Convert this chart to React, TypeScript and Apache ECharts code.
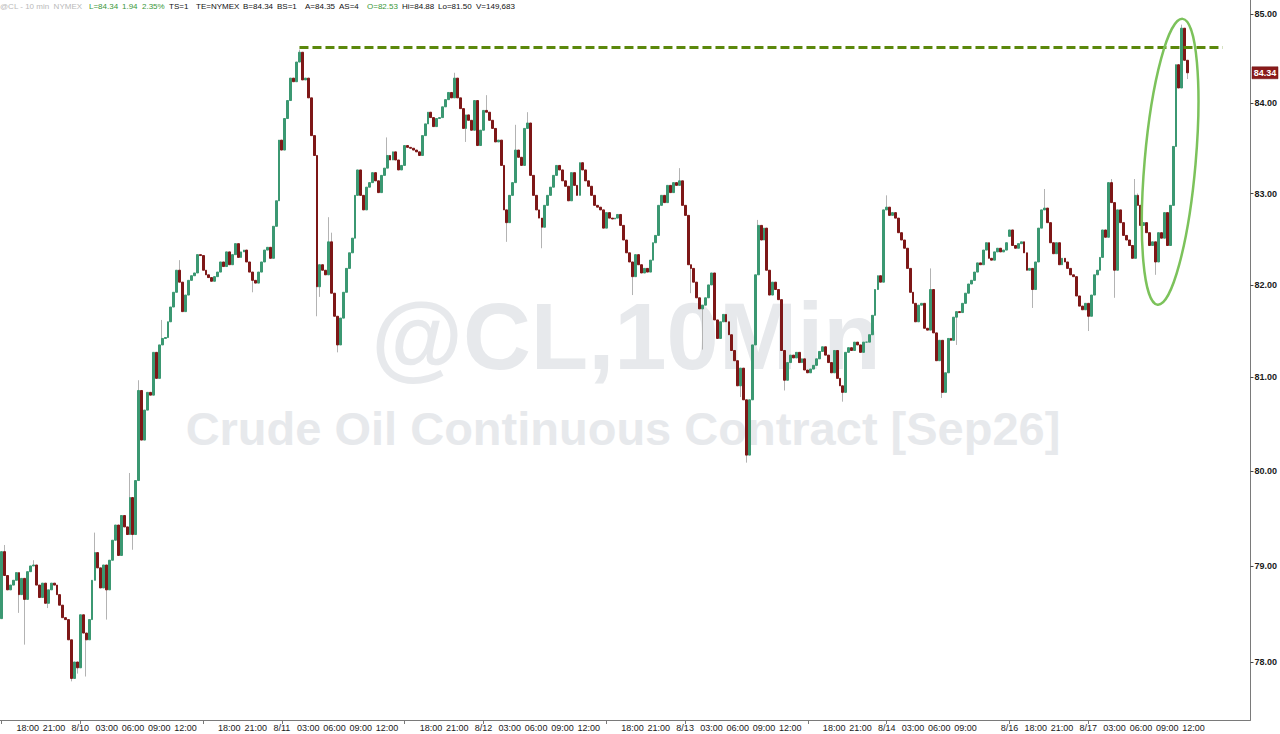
import React, { useEffect, useRef } from "react";
import * as echarts from "echarts";

// ---------- DATA (20-minute bars) ----------
const firstOpen = 78.45;

const closesS0 = [
  79.15, 78.9, 78.75, 78.8, 78.85, 78.93, 78.7, 78.87, 78.65, 78.94,
  79.0, 79.01, 78.8, 78.67, 78.82, 78.61, 78.75, 78.82, 78.8, 78.7,
  78.59, 78.46, 78.44, 78.23, 77.83, 78.0, 77.94, 78.49, 78.3, 78.23,
  78.44, 78.85, 79.14, 78.98, 78.77, 79.01, 78.75, 79.06, 79.27, 79.43,
  79.11, 79.53, 79.41, 79.33, 79.72, 79.33, 79.9, 80.86, 80.33, 80.65,
  80.84, 80.81, 81.27, 80.99, 81.35, 81.42, 81.43, 81.6, 81.76, 81.92,
  82.16, 82.03, 81.71, 81.89, 82.05, 82.1, 82.13, 82.33, 82.32,
];
const closesS1 = [
  82.16, 82.11, 82.08, 82.04, 82.09, 82.14, 82.25, 82.2, 82.36, 82.22,
  82.33, 82.45, 82.3, 82.36, 82.38, 82.25, 82.14, 82.05, 82.02, 82.14,
  82.25, 82.38, 82.41, 82.29, 82.64, 82.92, 83.59, 83.48, 83.83, 84.03,
  84.28, 84.24, 84.46, 84.57, 84.26, 84.28, 84.06, 83.64, 83.42, 81.98,
  82.22, 82.16, 82.11, 82.47, 81.91, 81.66, 81.35, 81.64, 81.92, 82.18,
  82.35, 82.51, 82.98, 83.26, 82.98, 82.82, 83.07, 83.12, 83.23, 83.14,
  83.01, 83.2, 83.28, 83.42, 83.37, 83.46, 83.37, 83.26, 83.31,
];
const closesS2 = [
  83.53, 83.51, 83.5, 83.48, 83.46, 83.42, 83.64, 83.77, 83.9, 83.84,
  83.74, 83.83, 83.84, 83.96, 84.04, 84.12, 84.06, 84.28, 84.06, 83.94,
  83.72, 83.87, 83.81, 83.7, 84.03, 83.53, 83.7, 83.92, 83.9, 83.81,
  83.72, 83.57, 83.59, 83.31, 82.82, 82.68, 82.98, 83.12, 83.48, 83.4,
  83.31, 83.72, 83.78, 83.2, 82.98, 82.82, 82.73, 82.63, 82.87, 82.98,
  83.07, 83.2, 83.31, 83.26, 83.14, 83.08, 82.92, 83.23, 83.09, 82.98,
  83.34, 83.26, 83.14, 83.08, 82.98, 82.87, 82.85, 82.82, 82.62,
];
const closesS3 = [
  82.79, 82.73, 82.72, 82.73, 82.77, 82.65, 82.49, 82.35, 82.25, 82.09,
  82.33, 82.22, 82.13, 82.18, 82.14, 82.27, 82.46, 82.54, 82.87, 82.98,
  82.9, 83.09, 83.01, 83.12, 83.09, 83.14, 82.87, 82.76, 82.22, 82.18,
  82.03, 81.86, 81.74, 81.78, 81.86, 82.0, 82.13, 81.62, 81.42, 81.6,
  81.68, 81.6, 81.46, 81.29, 81.18, 80.91, 81.1, 80.76, 80.17, 80.76,
  81.35, 82.11, 82.65, 82.49, 82.62, 82.16, 81.89, 82.03, 81.95, 81.84,
  81.29, 80.97, 81.16, 81.24, 81.21, 81.27, 81.16, 81.2, 81.08,
];
const closesS4 = [
  81.05, 81.09, 81.13, 81.2, 81.28, 81.33, 81.24, 81.16, 81.05, 81.29,
  80.99, 80.91, 80.84, 81.27, 81.32, 81.29, 81.38, 81.35, 81.27, 81.38,
  81.38, 81.46, 81.67, 81.95, 82.1, 82.03, 82.82, 82.85, 82.76, 82.79,
  82.73, 82.57, 82.49, 82.4, 82.18, 81.92, 81.8, 81.6, 81.78, 81.8,
  81.53, 81.51, 81.95, 81.48, 81.18, 81.4, 80.84, 81.05, 81.42, 81.4,
  81.65, 81.71, 81.7, 81.8, 81.91, 82.01, 82.05, 82.14, 82.24, 82.22,
  82.38, 82.46, 82.29, 82.27, 82.36, 82.4, 82.36, 82.38, 82.46,
];
const closesS5 = [
  82.6, 82.43, 82.4, 82.45, 82.47, 82.35, 82.16, 82.18, 81.95, 82.25,
  82.62, 82.82, 82.84, 82.68, 82.46, 82.34, 82.46, 82.22, 82.29, 82.25,
  82.18, 82.11, 82.09, 81.88, 81.77, 81.73, 81.8, 81.66, 81.89, 82.11,
  82.16, 82.3, 82.6, 82.52, 83.12, 82.9, 82.16, 82.82, 82.68, 82.54,
  82.49, 82.43, 82.29, 82.98, 82.87, 82.65, 82.68, 82.57, 82.43, 82.47,
  82.25, 82.57, 82.51, 82.79, 82.43, 82.87, 83.52, 84.43, 84.17, 84.84,
  84.48, 84.34,
];

// gap opens (bar index, open)
const gapOpens: [number, number][] = [[345, 82.53]];

// wick extremes beyond the bodies (bar index, price)
const highWicks: [number, number][] = [
  [1, 79.22], [11, 79.06], [32, 79.35], [44, 79.98], [47, 80.97], [55, 81.62],
  [61, 82.27], [102, 84.6], [112, 82.74], [113, 82.57], [132, 83.62], [155, 84.34],
  [166, 84.09], [176, 83.76], [180, 83.9], [232, 83.28], [259, 82.71], [303, 82.98],
  [318, 82.18], [357, 83.05], [380, 83.16], [388, 83.16], [389, 83.0], [404, 84.88],
];
const lowWicks: [number, number][] = [
  [6, 78.51], [8, 78.18], [16, 78.56], [24, 77.8], [26, 77.88], [29, 77.85],
  [36, 78.44], [45, 79.17], [86, 81.92], [108, 81.66], [109, 81.87], [115, 81.27],
  [159, 83.57], [173, 82.47], [185, 82.4], [216, 81.89], [236, 81.91], [240, 81.3],
  [253, 80.79], [255, 80.09], [268, 80.86], [288, 80.74], [322, 80.78], [327, 81.35],
  [353, 81.75], [372, 81.5], [381, 81.86], [395, 82.11], [406, 84.27],
];

const yTicks = [78, 79, 80, 81, 82, 83, 84, 85];
const resistanceLevel = 84.63;
const resistanceFromBar = 102;
const resistanceToBar = 418;
const lastPrice = 84.34;
const ellipseCenterBar = 400;
const ellipseCenterPrice = 83.35;

const sessionStartDays = ["8/9", "8/10", "8/11", "8/12", "8/13", "8/16"];
const barsPerSession = 69;
const sessionStartMinutes = 15 * 60;
const barMinutes = 20;
const totalSlots = 428;
const timeLabelHours = [3, 6, 9, 12, 18, 21];

const headerParts: { text: string; x: number; color: string }[] = [
  { text: "@CL - 10 min  NYMEX", x: 0, color: "#b9b9b9" },
  { text: "L=84.34", x: 89, color: "#3a983a" },
  { text: "1.94", x: 122, color: "#3a983a" },
  { text: "2.35%", x: 142, color: "#3a983a" },
  { text: "TS=1", x: 169, color: "#111" },
  { text: "TE=NYMEX", x: 196, color: "#111" },
  { text: "B=84.34", x: 243, color: "#111" },
  { text: "BS=1", x: 277, color: "#111" },
  { text: "A=84.35", x: 305, color: "#111" },
  { text: "AS=4", x: 339, color: "#111" },
  { text: "O=82.53", x: 367, color: "#3a983a" },
  { text: "Hi=84.88", x: 402, color: "#111" },
  { text: "Lo=81.50", x: 438, color: "#111" },
  { text: "V=149,683", x: 476, color: "#111" },
];

// ---------- derived ----------
const closes = [...closesS0, ...closesS1, ...closesS2, ...closesS3, ...closesS4, ...closesS5];
const highMap = new Map(highWicks);
const lowMap = new Map(lowWicks);
const gapMap = new Map(gapOpens);

const bars = closes.map((c, i) => {
  const o = gapMap.has(i) ? (gapMap.get(i) as number) : i === 0 ? firstOpen : closes[i - 1];
  const hi = Math.max(o, c, highMap.has(i) ? (highMap.get(i) as number) : -Infinity);
  const lo = Math.min(o, c, lowMap.has(i) ? (lowMap.get(i) as number) : Infinity);
  return { o, c, hi, lo };
});
const L = Math.log;
const wickData = bars.map((b) => [L(b.o), L(b.c), L(b.lo), L(b.hi)]);
const bodyData = bars.map((b) => [L(b.o), L(b.c), L(Math.min(b.o, b.c)), L(Math.max(b.o, b.c))]);

const nextDay = (d: string) => {
  const [m, day] = d.split("/").map(Number);
  return `${m}/${day + 1}`;
};
const pad = (n: number) => (n < 10 ? "0" + n : "" + n);

type Slot = { day: string; hour: number; min: number; sessionStart: boolean; afterWeekend: boolean };
const slots: Slot[] = [];
sessionStartDays.forEach((start, s) => {
  const afterWeekend = s > 0 && nextDay(sessionStartDays[s - 1]) !== start;
  for (let j = 0; j < barsPerSession; j++) {
    const minutes = sessionStartMinutes + barMinutes * j;
    slots.push({
      day: minutes >= 1440 ? nextDay(start) : start,
      hour: Math.floor(minutes / 60) % 24,
      min: minutes % 60,
      sessionStart: j === 0,
      afterWeekend: afterWeekend && j === 0,
    });
  }
});
const labels = slots.map((t) => {
  if (t.afterWeekend) return t.day;
  if (t.min !== 0) return "";
  if (t.hour === 0) return t.day;
  if (timeLabelHours.includes(t.hour)) return `${pad(t.hour)}:00`;
  return "";
});
labels.forEach((lab, i) => {
  if (!lab || lab.includes("/")) return;
  for (let k = i + 1; k <= i + 8 && k < slots.length; k++) {
    if (slots[k].afterWeekend) labels[i] = "";
  }
});
const tickSet = new Set<number>();
slots.forEach((t, i) => {
  if (t.sessionStart || (t.hour === 0 && t.min === 0)) tickSet.add(i);
});
const categories: string[] = [];
for (let i = 0; i < totalSlots; i++) {
  const t = slots[i];
  categories.push(t ? `${t.day} ${pad(t.hour)}:${pad(t.min)}` : `next-${i}`);
  if (!t) labels.push("");
}

const lnMax = L(85) + 14 / 7540;
const lnMin = L(85) - 706 / 7540;

const UP = "#3b9872";
const DOWN = "#7e1717";
const WICK = "#b3b3b3";
const FONT = "Liberation Sans, Arial, sans-serif";

export default function App() {
  const ref = useRef<HTMLDivElement>(null);
  useEffect(() => {
    if (!ref.current) return;
    const chart = echarts.init(ref.current, null, { renderer: "svg" });
    chart.setOption({
      animation: false,
      backgroundColor: "#ffffff",
      grid: { left: 0, right: 28, top: 0, bottom: 14 },
      xAxis: {
        type: "category",
        data: categories,
        boundaryGap: true,
        axisLine: { show: true, lineStyle: { color: "#7a7a7a", width: 1 } },
        axisTick: {
          show: true,
          alignWithLabel: true,
          length: 4,
          interval: (i: number) => tickSet.has(i),
          lineStyle: { color: "#7a7a7a" },
        },
        axisLabel: {
          interval: (i: number) => labels[i] !== "",
          formatter: (_v: string, i: number) => labels[i],
          fontSize: 9,
          color: "#1a1a1a",
          fontFamily: FONT,
          margin: 3,
        },
        splitLine: { show: false },
      },
      yAxis: {
        type: "value",
        position: "right",
        min: lnMin,
        max: lnMax,
        axisLine: { show: true, lineStyle: { color: "#7a7a7a", width: 1 } },
        axisTick: {
          show: true,
          length: 3,
          customValues: yTicks.map(L),
          lineStyle: { color: "#444" },
        },
        axisLabel: {
          customValues: yTicks.map(L),
          formatter: (v: number) => Math.exp(v).toFixed(2),
          fontSize: 9,
          fontWeight: "bold",
          color: "#1a1a1a",
          fontFamily: FONT,
          margin: 4,
        },
        splitLine: { show: false },
      },
      series: [
        {
          type: "candlestick",
          data: wickData,
          barWidth: 1,
          silent: true,
          z: 2,
          itemStyle: { color: WICK, color0: WICK, borderColor: WICK, borderColor0: WICK, borderWidth: 1 },
        },
        {
          type: "candlestick",
          data: bodyData,
          barWidth: 2.4,
          silent: true,
          z: 3,
          itemStyle: { color: UP, color0: DOWN, borderColor: UP, borderColor0: DOWN, borderWidth: 1 },
          markLine: {
            silent: true,
            symbol: ["none", "none"],
            animation: false,
            label: { show: false },
            data: [
              [
                {
                  coord: [resistanceFromBar, L(resistanceLevel)],
                  lineStyle: { type: [9, 4], color: "#5b880c", width: 3 },
                },
                { coord: [resistanceToBar, L(resistanceLevel)] },
              ],
            ],
          },
        },
      ],
    });

    const c = chart.convertToPixel({ gridIndex: 0 }, [ellipseCenterBar, L(ellipseCenterPrice)]) as number[];
    const tagY = (chart.convertToPixel({ gridIndex: 0 }, [0, L(lastPrice)]) as number[])[1];
    chart.setOption({
      graphic: [
        {
          type: "text",
          silent: true,
          z: 0,
          x: 626,
          y: 336,
          style: {
            text: "@CL,10Min",
            fontSize: 94,
            fontWeight: "bold",
            fontFamily: FONT,
            fill: "#e7e9ec",
            align: "center",
            verticalAlign: "middle",
          },
        },
        {
          type: "text",
          silent: true,
          z: 0,
          x: 623,
          y: 428,
          style: {
            text: "Crude Oil Continuous Contract [Sep26]",
            fontSize: 47,
            fontWeight: "bold",
            fontFamily: FONT,
            fill: "#e7e9ec",
            align: "center",
            verticalAlign: "middle",
          },
        },
        {
          type: "ellipse",
          silent: true,
          z: 100,
          x: c[0],
          y: c[1],
          rotation: -0.087,
          shape: { cx: 0, cy: 0, rx: 25.5, ry: 143.5 },
          style: { fill: "none", stroke: "#7cc25b", lineWidth: 2.5 },
        },
        {
          type: "rect",
          silent: true,
          z: 100,
          shape: { x: 1252, y: tagY - 6, width: 26, height: 12 },
          style: { fill: "#8a1b1b", stroke: "#6d1212", lineWidth: 0.5 },
        },
        {
          type: "text",
          silent: true,
          z: 101,
          x: 1265,
          y: tagY + 0.5,
          style: {
            text: lastPrice.toFixed(2),
            fontSize: 9,
            fontWeight: "bold",
            fontFamily: FONT,
            fill: "#ffffff",
            align: "center",
            verticalAlign: "middle",
          },
        },
        ...headerParts.map((p) => ({
          type: "text",
          silent: true,
          z: 100,
          x: p.x,
          y: 6,
          style: {
            text: p.text,
            fontSize: 8,
            fontFamily: FONT,
            fill: p.color,
            align: "left",
            verticalAlign: "middle",
          },
        })),
      ],
    });
    return () => chart.dispose();
  }, []);
  return (
    <div
      ref={ref}
      style={{ position: "fixed", left: 0, top: 0, width: 1280, height: 734, background: "#fff" }}
    />
  );
}
